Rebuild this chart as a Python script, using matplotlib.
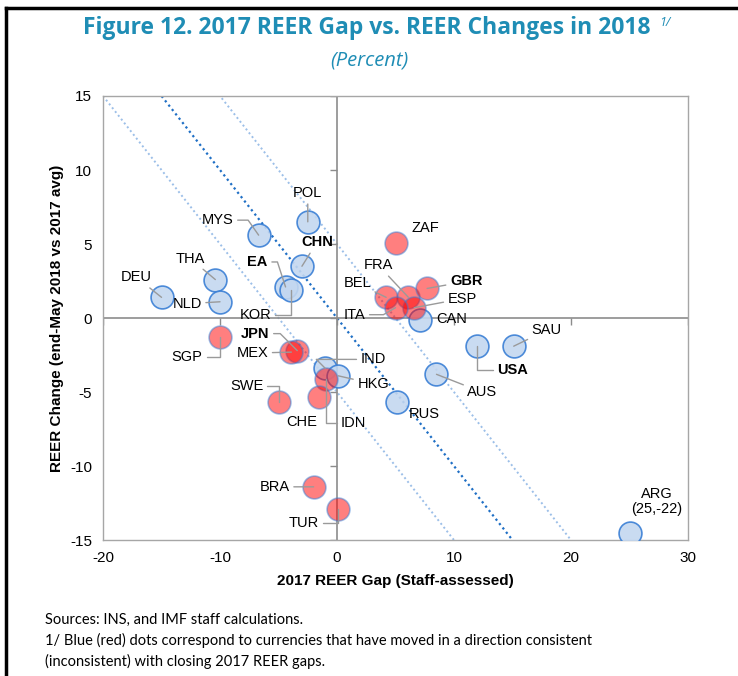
import matplotlib
matplotlib.use("Agg")
import matplotlib.pyplot as plt
from matplotlib.lines import Line2D
import numpy as np

plt.rcParams["axes.unicode_minus"] = False

# data
countries = ["POL", "MYS", "CHN", "THA", "DEU", "NLD", "EA", "KOR", "SGP", "JPN",
             "MEX", "ZAF", "FRA", "BEL", "GBR", "ESP", "ITA", "CAN", "SAU", "USA",
             "AUS", "RUS", "IND", "HKG", "IDN", "CHE", "SWE", "BRA", "TUR", "ARG"]
reer_gap = [-2.5, -6.7, -3.0, -10.4, -15.0, -10.0, -4.4, -3.9, -10.0, -3.4,
            -3.9, 5.0, 6.1, 4.2, 7.7, 6.6, 5.0, 7.1, 15.1, 12.0,
            8.5, 5.1, -1.0, 0.1, -0.9, -1.5, -5.0, -2.0, 0.1, 25.0]
reer_change = [6.5, 5.6, 3.5, 2.6, 1.4, 1.1, 2.1, 1.9, -1.3, -2.2,
               -2.3, 5.1, 1.4, 1.4, 2.0, 0.7, 0.7, -0.1, -1.9, -1.9,
               -3.8, -5.7, -3.4, -3.9, -4.1, -5.3, -5.7, -11.4, -12.9, -14.5]
# True = moved in a direction consistent with closing the gap (blue)
consistent = [True, True, True, True, True, True, True, True, False, False,
              False, False, False, False, False, False, False, True, True, True,
              True, True, True, True, False, False, False, False, False, True]
bold_labels = ["CHN", "EA", "GBR", "USA", "JPN"]
label_text = {"ARG": "ARG\n(25,-22)"}

# label placement: offset in pixels from point, leader style (None = no line,
# "s" = straight, number = elbow with that final angle)
label_pos = {
    "POL": (0, 29, "s"), "MYS": (-41, 15, -55), "CHN": (15, 24, "s"),
    "THA": (-25, 21, "s"), "DEU": (-25, 20, "s"), "NLD": (-33, -2, "s"),
    "EA": (-28, 25, -72), "KOR": (-36, -25, 90), "SGP": (-33, -20, 90),
    "JPN": (-42, 17, -45), "MEX": (-39, -1, "s"), "ZAF": (30, 15, None),
    "FRA": (-30, 32, "s"), "BEL": (-29, 14, "s"), "GBR": (39, 7, "s"),
    "ESP": (48, 9, "s"), "ITA": (-41, -7, 30), "CAN": (32, 1, None),
    "SAU": (33, 16, "s"), "USA": (35, -24, 90), "AUS": (46, -18, "s"),
    "RUS": (28, -12, None), "IND": (48, 9, -45), "HKG": (35, -8, "s"),
    "IDN": (27, -44, 90), "CHE": (-18, -25, None), "SWE": (-32, 16, 90),
    "BRA": (-39, 0, "s"), "TUR": (-34, -14, 90), "ARG": (27, 31, None),
}

teal = "#1f8db5"
blue_fill = "#c3d7f0"
edge = "#3a7fd5"

fig = plt.figure(figsize=(7.38, 6.76), dpi=100)
ax = fig.add_axes([0.1396, 0.201, 0.7927, 0.657])

gap = np.array(reer_gap)
chg = np.array(reer_change)
cons = np.array(consistent)

# reference lines y = -x and y = -x +/- 5
xx = np.array([-20, 30])
ax.plot(xx, -xx, ls=(0, (1, 1.5)), color="#1f6fc5", lw=1.6, zorder=1)
ax.plot(xx, -xx - 5, ls=(0, (1, 1.5)), color="#9cbfe8", lw=1.4, zorder=1)
ax.plot(xx, -xx + 5, ls=(0, (1, 1.5)), color="#9cbfe8", lw=1.4, zorder=1)

# zero axes with excel-like ticks
ax.axhline(0, color="#8c8c8c", lw=1.2, zorder=1)
ax.axvline(0, color="#8c8c8c", lw=1.2, zorder=1)
xt = np.arange(-20, 31, 10)
yt = np.arange(-15, 16, 5)
ax.plot(xt, np.zeros_like(xt), ls="none", marker=3, ms=5, mew=1, color="#8c8c8c", zorder=1)
ax.plot(np.zeros_like(yt), yt, ls="none", marker=0, ms=5, mew=1, color="#8c8c8c", zorder=1)

ax.scatter(gap[cons], chg[cons], s=270, facecolor=blue_fill, edgecolor=edge,
           linewidth=1.2, alpha=0.9, zorder=3)
ax.scatter(gap[~cons], chg[~cons], s=270, facecolor="red", edgecolor=edge,
           linewidth=1.2, alpha=0.5, zorder=4)

for i, c in enumerate(countries):
    dx, dy, style = label_pos[c]
    props = None
    if style == "s":
        props = dict(arrowstyle="-", color="#9a9a9a", lw=1, shrinkA=1, shrinkB=0)
    elif style is not None:
        props = dict(arrowstyle="-", color="#9a9a9a", lw=1, shrinkA=1, shrinkB=0,
                     connectionstyle=f"angle,angleA=0,angleB={style},rad=0")
    ax.annotate(label_text.get(c, c), (gap[i], chg[i]), xytext=(dx, dy),
                textcoords="offset pixels", ha="center", va="center",
                fontsize=10.5, family="Liberation Sans",
                fontweight="bold" if c in bold_labels else "normal",
                arrowprops=props, zorder=5, linespacing=1.1)

ax.set_xlim(-20, 30)
ax.set_ylim(-15, 15)
ax.set_xticks(xt)
ax.set_yticks(yt)
ax.tick_params(length=0, labelsize=11, pad=8)
for lab in ax.get_xticklabels() + ax.get_yticklabels():
    lab.set_family("Liberation Sans")
for s in ax.spines.values():
    s.set_color("#a6a6a6")
    s.set_linewidth(1)

ax.set_xlabel("2017 REER Gap (Staff-assessed)", fontsize=11, fontweight="bold",
              family="Liberation Sans", labelpad=6)
ax.set_ylabel("REER Change (end-May 2018 vs 2017 avg)", fontsize=11,
              fontweight="bold", family="Liberation Sans", labelpad=4)

fig.text(0.497, 0.958, "Figure 12. 2017 REER Gap vs. REER Changes in 2018",
         ha="center", va="center", fontsize=16.5, fontweight="bold", color=teal,
         family="Open Sans")
fig.text(0.893, 0.966, "1/", ha="left", va="center", fontsize=9, style="italic",
         color=teal, family="Open Sans")
fig.text(0.5, 0.911, "(Percent)", ha="center", va="center", fontsize=14.5,
         style="italic", color=teal, family="Open Sans")

notes = ["Sources: INS, and IMF staff calculations.",
         "1/ Blue (red) dots correspond to currencies that have moved in a direction consistent",
         "(inconsistent) with closing 2017 REER gaps."]
for k, line in enumerate(notes):
    fig.text(0.061, 0.083 - k * 0.031, line, ha="left", va="center",
             fontsize=10.5, family="Lato")

# frame around figure
fig.add_artist(Line2D([0.008, 0.008], [0, 0.988], color="black", lw=2.5))
fig.add_artist(Line2D([0.008, 1.0], [0.988, 0.988], color="black", lw=2.5))

fig.savefig("out.png", dpi=100)
